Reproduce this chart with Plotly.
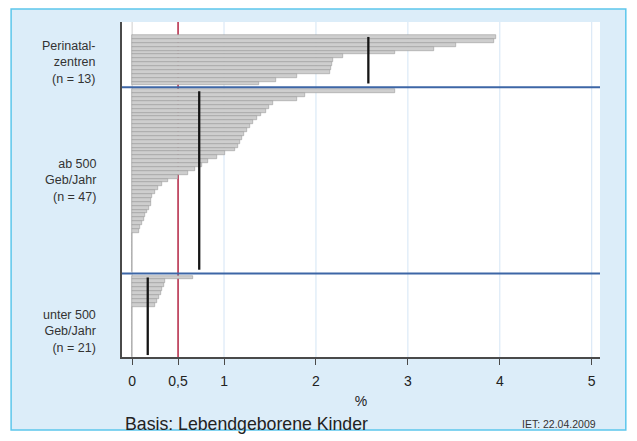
import plotly.graph_objects as go

# ---- data ----
group_lines = [["Perinatal-", "zentren", "(n = 13)"],
               ["ab 500", "Geb/Jahr", "(n = 47)"],
               ["unter 500", "Geb/Jahr", "(n = 21)"]]
perinatal = [3.96, 3.94, 3.52, 3.28, 2.86, 2.29, 2.18, 2.17, 2.16, 2.15, 1.79, 1.56, 1.38]
ab500 = [2.86, 1.88, 1.79, 1.53, 1.49, 1.46, 1.40, 1.36, 1.32, 1.28,
         1.25, 1.22, 1.19, 1.17, 1.15, 1.12, 1.01, 0.92, 0.83, 0.76,
         0.68, 0.61, 0.50, 0.39, 0.32, 0.28, 0.25, 0.22, 0.20, 0.20,
         0.18, 0.16, 0.14, 0.13, 0.11, 0.09, 0.08, 0, 0, 0,
         0, 0, 0, 0, 0, 0, 0]
unter500 = [0.66, 0.36, 0.35, 0.33, 0.31, 0.29, 0.27, 0.25, 0, 0,
            0, 0, 0, 0, 0, 0, 0, 0, 0, 0, 0]
group_means = [2.57, 0.73, 0.17]
reference_value = 0.5
tick_vals = [0, 0.5, 1, 2, 3, 4, 5]
tick_text = ["0", "0,5", "1", "2", "3", "4", "5"]
grid_vals = [1, 2, 3, 4, 5]
x_title = "%"
footnote = "Basis: Lebendgeborene Kinder"
stamp = "IET: 22.04.2009"

groups = [perinatal, ab500, unter500]

fig = go.Figure()

label_centers = [6.7, 36.9, 76.0]
pos = 0
starts, ends, seps = [], [], []
for gi, vals in enumerate(groups):
    ys = list(range(pos, pos + len(vals)))
    starts.append(ys[0]); ends.append(ys[-1])
    fig.add_trace(go.Bar(x=vals, y=ys, orientation="h", width=1,
                         marker=dict(color="#cecece", line=dict(color="#9c9c9c", width=0.6)),
                         showlegend=False, hoverinfo="x"))
    pos += len(vals)
    if gi < len(groups) - 1:
        seps.append(pos)
        pos += 1
last = pos - 1
y_top, y_bottom = -3.85, last + 0.5

for gi, m in enumerate(group_means):
    fig.add_trace(go.Scatter(x=[m, m], y=[starts[gi], ends[gi]], mode="lines",
                             line=dict(color="#151515", width=2.3),
                             showlegend=False, hoverinfo="skip"))

shapes = [
    dict(type="rect", xref="paper", yref="paper", x0=-0.232, x1=1.054, y0=-0.218, y1=1.039,
         fillcolor="#dcedf9", line=dict(color="#5cc6ec", width=1.5), layer="below"),
    dict(type="rect", xref="paper", yref="paper", x0=0, x1=1, y0=0, y1=1,
         fillcolor="white", line=dict(width=0), layer="below"),
]
for g in grid_vals:
    shapes.append(dict(type="line", xref="x", yref="y", x0=g, x1=g, y0=y_top, y1=y_bottom,
                       line=dict(color="#d4e5f5", width=1), layer="below"))
shapes.append(dict(type="line", xref="x", yref="y", x0=0, x1=0, y0=y_top, y1=y_bottom,
                   line=dict(color="#cfcfcf", width=1), layer="below"))
shapes.append(dict(type="line", xref="x", yref="y", x0=reference_value, x1=reference_value,
                   y0=y_top, y1=y_bottom, line=dict(color="#b8314e", width=1.6), layer="below"))
for s in seps:
    shapes.append(dict(type="line", xref="paper", yref="y", x0=0, x1=1, y0=s, y1=s,
                       line=dict(color="#3d66a6", width=2), layer="above"))

annotations = []
for gi, lines in enumerate(group_lines):
    annotations.append(dict(text="<br>".join(lines), xref="paper", yref="y", x=-0.05,
                            y=label_centers[gi], align="right",
                            xanchor="right", yanchor="middle", showarrow=False,
                            font=dict(size=12.5, color="#333333")))
annotations.append(dict(text=footnote, xref="paper", yref="paper", x=0.002, y=-0.2,
                        xanchor="left", yanchor="middle", showarrow=False,
                        font=dict(size=17.7, color="#222222")))
annotations.append(dict(text=stamp, xref="paper", yref="paper", x=0.996, y=-0.2,
                        xanchor="right", yanchor="middle", showarrow=False,
                        font=dict(size=10.5, color="#333333")))

# the page body adds an 8px offset; margins compensate for it
fig.update_layout(
    width=637, height=441,
    margin=dict(l=114, r=45, t=14, b=92),
    paper_bgcolor="white", plot_bgcolor="white",
    font=dict(family="Liberation Sans, Arial, sans-serif"),
    barmode="overlay", bargap=0,
    shapes=shapes, annotations=annotations,
    xaxis=dict(range=[-0.11, 5.09], tickvals=tick_vals, ticktext=tick_text,
               showgrid=False, zeroline=False,
               showline=True, linecolor="#4a4a4a", linewidth=1.5,
               ticks="outside", ticklen=6, tickcolor="#4a4a4a", tickwidth=1,
               ticklabelstandoff=4,
               tickfont=dict(size=14, color="#222222"),
               title=dict(text=x_title, font=dict(size=14, color="#222222"), standoff=9)),
    yaxis=dict(range=[y_bottom, y_top], showticklabels=False, showgrid=False,
               zeroline=False, showline=True, linecolor="#4a4a4a", linewidth=1.5,
               ticks=""),
)

fig.write_html("out.html")
